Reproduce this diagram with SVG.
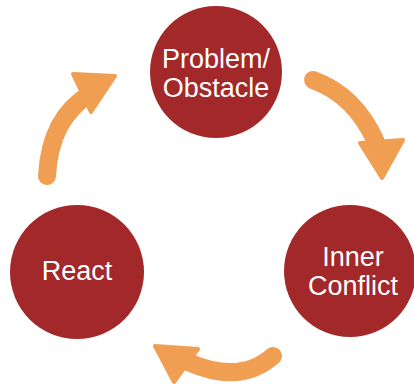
<svg xmlns="http://www.w3.org/2000/svg" width="414" height="390" viewBox="0 0 414 390">
  <style>
    .node circle { fill: #A3282A; }
    .node text { fill: #FFFFFF; font-family: "Liberation Sans", Arial, Helvetica, sans-serif; font-size: 27px; text-anchor: middle; }
    .arc { fill: none; stroke: #F09E52; stroke-width: 18; stroke-linecap: round; }
    .head { fill: #F09E52; stroke: #F09E52; stroke-width: 4; stroke-linejoin: round; }
  </style>
  <rect width="414" height="390" fill="#FFFFFF"/>

  <!-- cycle arrows -->
  <g id="connectors">
    <path class="arc" d="M313,80 Q355,95 376,142"/>
    <polygon class="head" points="360,143 403,140 382,178"/>

    <path class="arc" d="M273,356 Q240,385 188,362"/>
    <polygon class="head" points="155,346 198,349 174,382"/>

    <path class="arc" d="M47,176 Q50,118 90,94"/>
    <polygon class="head" points="73,74 115,76 91,112"/>
  </g>

  <g id="problem" class="node">
    <circle cx="216" cy="72" r="66"/>
    <text x="216" y="68">Problem/</text>
    <text x="216" y="97">Obstacle</text>
  </g>

  <g id="inner-conflict" class="node">
    <circle cx="350" cy="271" r="66"/>
    <text x="353" y="266">Inner</text>
    <text x="353" y="295">Conflict</text>
  </g>

  <g id="react" class="node">
    <circle cx="77" cy="272" r="67"/>
    <text x="77" y="280">React</text>
  </g>
</svg>
